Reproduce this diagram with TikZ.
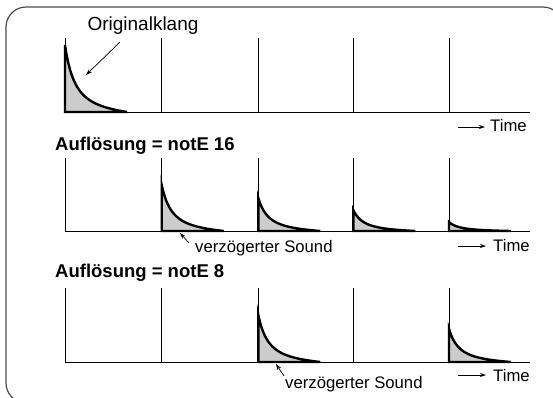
\documentclass[tikz,border=0pt]{standalone}
\usepackage{fontspec}
\setmainfont{Liberation Sans}
\usetikzlibrary{arrows.meta}
\tikzset{
  frame/.style={draw=black!70, line width=1.2pt, rounded corners=20pt},
  thinline/.style={draw=black, line width=0.9pt},
  decayfill/.style={fill=black!20, draw=none},
  decayline/.style={draw=black, line width=2.4pt, line join=miter},
  ptr/.style={draw=black, line width=0.7pt, -{Stealth[length=6pt,width=4pt]}},
  timearrow/.style={draw=black, line width=0.8pt, -{Stealth[length=6pt,width=4pt]}},
  lbl/.style={font=\fontsize{16.7}{18}\selectfont, inner sep=0pt},
  head/.style={font=\fontsize{18.5}{20}\selectfont\bfseries, inner sep=0pt, anchor=base west},
}
% decay: x0, baseline y, height
\newcommand{\mydecay}[3]{%
  \fill[decayfill] (#1,#2) -- plot[domain=0:62, samples=70, smooth] ({#1+\x},{#2-#3*(1/((1+\x/20)*(1+\x/20)) - 0.0595*\x/62)}) -- cycle;
  \draw[decayline] (#1+62,#2) -- (#1,#2) -- plot[domain=0:62, samples=70, smooth] ({#1+\x},{#2-#3*(1/((1+\x/20)*(1+\x/20)) - 0.0595*\x/62)});
}
\begin{document}
\begin{tikzpicture}[x=1pt,y=-1pt]
\useasboundingbox (0,0) rectangle (553,397);
\begin{scope}
\clip (0,0) rectangle (553,397);
\draw[frame] (6,7) rectangle (563,403);
\end{scope}

% ---------- Row 1 ----------
\foreach \xx in {65,161.7,258.3,353.3,449} \draw[thinline] (\xx,112) -- (\xx,38);
\draw[thinline] (65,112) -- (530,112);
\mydecay{65}{112}{67}
\node[lbl, font=\fontsize{19}{21}\selectfont, anchor=base] (orig) at (143,30) {Originalklang};
\coordinate (origtip) at (86,75);
\draw[ptr] (120,42) -- (origtip);
\coordinate (t1a) at (458,127); \coordinate (t1b) at (485,127);
\draw[timearrow] (t1a) -- (t1b);
\node[lbl, anchor=base west] (time1) at (490,131.7) {Time};

% ---------- Row 2 ----------
\node[head] (h2) at (55,150) {Auflösung = notE 16};
\foreach \xx in {65,161.7,258.3,353.3,449} \draw[thinline] (\xx,231) -- (\xx,158);
\draw[thinline] (65,231) -- (530,231);
\mydecay{161.7}{231}{46}
\mydecay{258.3}{231}{33}
\mydecay{353.3}{231}{21}
\mydecay{449}{231}{9}
\node[lbl, anchor=base west] (vs2) at (195,252) {verzögerter Sound};
\coordinate (vs2tip) at (180,233);
\draw[ptr] (189,243) -- (vs2tip);
\coordinate (t2a) at (458,246); \coordinate (t2b) at (486,246);
\draw[timearrow] (t2a) -- (t2b);
\node[lbl, anchor=base west] (time2) at (493,251.7) {Time};

% ---------- Row 3 ----------
\node[head] (h3) at (55,277) {Auflösung = notE 8};
\foreach \xx in {65,161.7,258.3,353.3,449} \draw[thinline] (\xx,362) -- (\xx,288);
\draw[thinline] (65,362) -- (530,362);
\mydecay{258.3}{362}{47}
\mydecay{449}{362}{33}
\node[lbl, anchor=base west] (vs3) at (285,388) {verzögerter Sound};
\coordinate (vs3tip) at (276,364);
\draw[ptr] (284,376) -- (vs3tip);
\coordinate (t3a) at (458,375); \coordinate (t3b) at (486,375);
\draw[timearrow] (t3a) -- (t3b);
\node[lbl, anchor=base west] (time3) at (493,381.7) {Time};
\end{tikzpicture}
\end{document}
